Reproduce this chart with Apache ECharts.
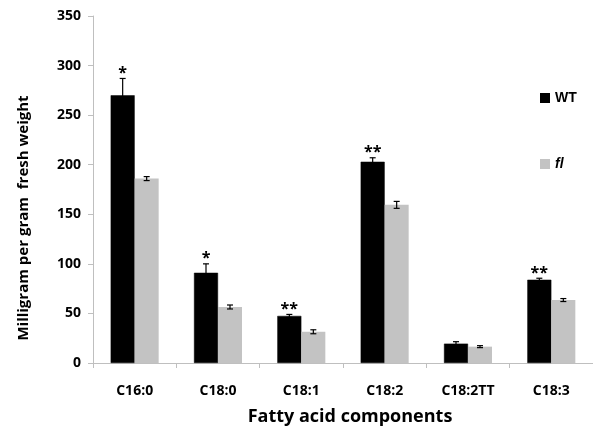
<!DOCTYPE html>
<html><head><meta charset="utf-8">
<script src="https://cdn.jsdelivr.net/npm/echarts@6/dist/echarts.min.js"></script>
<style>html,body{margin:0;padding:0;background:#fff}#c{width:593px;height:434px}</style>
</head><body><div id="c"></div>
<script>
const categories = ['C16:0','C18:0','C18:1','C18:2','C18:2TT','C18:3'];
const wtValues = [270, 91, 47.5, 203, 19.5, 84];
const wtErrors = [17, 9, 1.5, 4, 2, 1.5];
const flValues = [186, 56.5, 31.5, 159.5, 16.5, 63.5];
const flErrors = [2, 2, 2, 3.5, 1, 1.5];
const wtStars = ['*','*','**','**','','**'];
const yTicks = [0, 50, 100, 150, 200, 250, 300, 350];

const FONT = '"Open Sans"';
const BW = 24;
const chart = echarts.init(document.getElementById('c'));
function errSeries(vals, errs, side, stars) {
  return {
    type: 'custom', z: 5,
    data: vals.map((v, i) => [i, v, errs[i]]),
    renderItem: function (params, api) {
      const i = api.value(0), v = api.value(1), e = api.value(2);
      const c = api.coord([i, v]);
      const x = c[0] + side * BW / 2;
      const top = api.coord([i, v + e])[1];
      const bot = api.coord([i, v - e])[1];
      const children = [
        {type:'line', shape:{x1:x, y1:top, x2:x, y2:bot}, style:{stroke:'#000', lineWidth:1.2}},
        {type:'line', shape:{x1:x-3, y1:top, x2:x+3, y2:top}, style:{stroke:'#000', lineWidth:1.2}},
        {type:'line', shape:{x1:x-3, y1:bot, x2:x+3, y2:bot}, style:{stroke:'#000', lineWidth:1.2}}
      ];
      const s = stars ? stars[i] : '';
      if (s) {
        children.push({type:'text', x:x, y:top + 3, style:{text:s, fill:'#000', font:'bold 16px ' + FONT, align:'center', verticalAlign:'bottom'}});
      }
      return {type:'group', children: children};
    }
  };
}
chart.setOption({
  animation: false,
  grid: {left: 93, top: 16, width: 508, height: 347},
  legend: {
    orient: 'vertical', left: 535, top: 86, itemGap: 52, itemWidth: 10, itemHeight: 10,
    icon: 'rect',
    data: ['WT', 'fl'],
    textStyle: {fontFamily: 'Liberation Sans', fontWeight: 'bold', fontSize: 14, color: '#000',
      rich: {i: {fontStyle: 'italic', fontWeight: 'bold', fontFamily: 'Liberation Sans', fontSize: 14, color: '#000'}}},
    itemStyle: {borderWidth: 0},
    formatter: function (n) { return n === 'fl' ? '{i|fl}' : n; }
  },
  xAxis: {
    type: 'category', data: categories,
    axisLine: {lineStyle: {color: '#bfbfbf', width: 1}},
    axisTick: {show: true, length: 5, lineStyle: {color: '#bfbfbf'}},
    axisLabel: {color: '#000', fontFamily: FONT, fontWeight: 'bold', fontSize: 14, margin: 21}
  },
  yAxis: {
    type: 'value', min: 0, max: 350, interval: 50,
    axisLine: {show: true, lineStyle: {color: '#bfbfbf', width: 1}},
    axisTick: {show: true, length: 5, lineStyle: {color: '#bfbfbf'}},
    splitLine: {show: false},
    axisLabel: {color: '#000', fontFamily: FONT, fontWeight: 'bold', fontSize: 14, margin: 12,
      formatter: v => yTicks.includes(v) ? String(v) : ''}
  },
  series: [
    {name: 'WT', type: 'bar', data: wtValues, barWidth: BW, barGap: '0%',
      itemStyle: {color: '#000', borderColor: '#000', borderWidth: 0.5}},
    {name: 'fl', type: 'bar', data: flValues, barWidth: BW, barGap: '0%',
      itemStyle: {color: '#c3c3c3'}},
    errSeries(wtValues, wtErrors, -1, wtStars),
    errSeries(flValues, flErrors, 1, null)
  ],
  graphic: [
    {type: 'text', x: 24, y: 218, rotation: Math.PI / 2,
      style: {text: 'Milligram per gram  fresh weight', font: 'bold 15px ' + FONT, fill: '#000', align: 'center', verticalAlign: 'middle'}},
    {type: 'text', x: 350, y: 417,
      style: {text: 'Fatty acid components', font: 'bold 18px ' + FONT, fill: '#000', align: 'center', verticalAlign: 'middle'}}
  ]
});
</script></body></html>
